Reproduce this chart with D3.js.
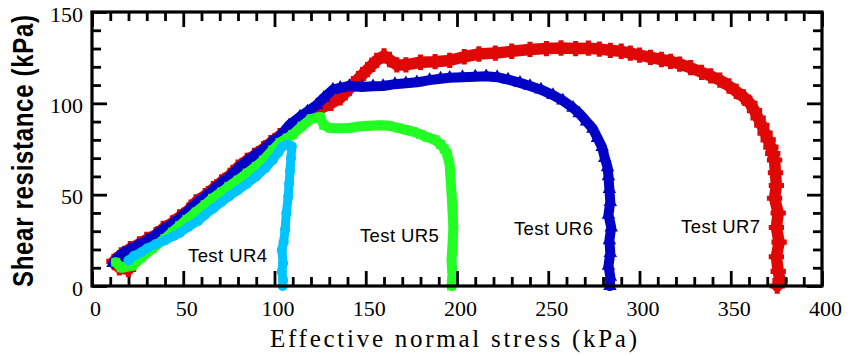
<!DOCTYPE html>
<html>
<head>
<meta charset="utf-8">
<script src="https://cdn.jsdelivr.net/npm/d3@7"></script>
<style>
  html, body { margin: 0; padding: 0; background: #fff; }
  svg { display: block; }
</style>
</head>
<body>
<svg id="chart" width="859" height="356"></svg>
<script>
// Stress paths of the undrained ring-shear tests: [effective normal stress, shear resistance] in kPa
const testUR7 = [
  [20, 9], [15, 10], [12, 13.5], [16, 17], [21, 20.5], [26, 23], [30, 25.5], [35, 28], [39, 31.5],
  [44, 34.5], [48, 37.8], [53, 41.5], [57, 46], [62, 49.5], [66.5, 53.3], [71, 57], [75.6, 60.6],
  [80, 65], [85, 68.8], [89, 71.5], [94, 75.2], [98, 78.5], [103, 82.3], [108, 85.5], [114, 91],
  [120, 94.5], [126, 97.5], [131, 100], [136, 103], [141, 108], [146, 113.5], [151, 118.5],
  [156, 123.5], [160, 126], [163, 124], [167, 121], [172, 121], [180, 122.5], [188, 122.8],
  [196, 123.5], [204, 125.5], [212, 127], [221, 127.5], [230, 128.5], [240, 129.5], [249, 130],
  [257, 130.3], [265, 130], [272, 130.2], [278, 129.7], [284, 129], [290, 128.5], [295, 127.5],
  [300, 126.4], [306, 125.2], [312, 124], [317, 123], [322, 121.5], [328, 119.5], [334, 117],
  [339, 115], [344, 112.7], [349, 109.5], [353, 106.5], [357, 103.5], [360.5, 100], [363, 96],
  [365, 92], [367, 88], [368.8, 83.7], [370.5, 80], [372, 76], [373, 72.5], [374, 69], [374.5, 62],
  [375, 55], [374, 48], [376, 40], [375, 32], [376.5, 24], [375, 16], [376, 8], [377, 3], [375.5, 0]
];
const testUR6 = [
  [11.5, 12.5], [14, 15.5], [17, 18], [20.8, 20], [25, 22.3], [30, 24.8], [35, 28], [39, 31],
  [44, 34], [48.2, 37.3], [53, 41.5], [57.4, 45.5], [62, 49], [66.5, 52.8], [71, 56.5], [75.6, 60.1],
  [80, 64.5], [84.8, 68.3], [89, 71.5], [93.9, 74.7], [98, 78.5], [103, 82], [108, 88], [114, 92.7],
  [118, 95.5], [123, 99], [127, 103], [132, 107.5], [136, 108.5], [141, 109.5], [148, 109],
  [154, 109.3], [159.5, 109.5], [166, 110.5], [172, 111], [178, 111.5], [185, 112.7], [191, 113.5],
  [196, 114], [203, 114.3], [210, 114.6], [216, 114.8], [222, 114.3], [228, 113], [234.5, 111.2],
  [240, 109.5], [246, 107.5], [252.6, 104.5], [258, 101.5], [263.6, 97.5], [267, 94.5],
  [271, 90], [274.5, 86], [277, 81], [279.5, 76], [281, 70], [282.5, 65], [283, 60], [283.5, 53],
  [284, 46], [283, 39], [284.5, 32], [283.5, 25], [284, 18], [283, 11], [284, 5], [283.8, 0]
];
const testUR5 = [
  [13, 13], [16, 10], [22, 11], [27, 15.5], [33, 20.5], [40, 26], [44, 29.5], [48, 33], [52, 36.5],
  [57, 40.5], [62, 44.5], [66, 48], [71, 51.5], [75, 54.5], [80, 58], [85, 61.8], [90, 65.5],
  [94, 69], [99, 74.5], [103, 78.5], [107, 81], [110, 83], [115, 87.5], [120, 91.5], [125, 92.5],
  [127, 88], [130.4, 86.5], [135, 86.3], [141, 86.5], [146, 87.3], [152, 87.7], [158, 88],
  [163, 87.7], [168, 86.5], [172, 85.5], [176, 84.5], [180, 83], [183.5, 81.5], [188, 80],
  [191, 77.5], [193, 75], [194.5, 72.6], [196, 66], [196.5, 58], [197, 51], [197.5, 42],
  [198, 32], [197.5, 22], [197, 14], [197.5, 6], [197, 0]
];
const testUR4 = [
  [20, 14], [23, 16.5], [27, 18.5], [30, 20.5], [35, 23], [40, 25], [45, 27.5], [48, 29],
  [53, 32.5], [58, 35.5], [62, 39], [66.5, 42.5], [71, 46], [75, 49], [80, 52.5], [85, 56],
  [90, 60], [95, 64.5], [99, 69], [102, 73], [104, 76], [107, 77.5], [109.5, 76.5], [109, 70],
  [108.5, 63], [108, 56], [107.5, 49], [106.5, 40], [105.8, 31], [105, 24], [104, 19.7],
  [104.7, 12.6], [104, 8], [104.7, 3.3], [104.5, 0]
];

const xTickValues = [0, 50, 100, 150, 200, 250, 300, 350, 400];
const yTickValues = [0, 50, 100, 150];
const xTitle = "Effective normal stress (kPa)";
const yTitle = "Shear resistance (kPa)";

const svg = d3.select("#chart");
const plotLeft = 92, plotRight = 822, plotTop = 12, plotBottom = 286;

const x = d3.scaleLinear().domain([0, 400]).range([plotLeft, plotRight]);
const y = d3.scaleLinear().domain([0, 150]).range([plotBottom, plotTop]);

const minorX = d3.range(0, 401, 10).filter(v => v % 50 !== 0);
const minorY = d3.range(0, 151, 10).filter(v => v % 50 !== 0);

// Series: path band plus dense markers
const series = [
  { data: testUR7, color: "#e00707", width: 11.5, symbol: d3.symbolCross, size: 130 },
  { data: testUR6, color: "#0202c6", width: 10, symbol: d3.symbolTriangle, size: 80 },
  { data: testUR5, color: "#22ff22", width: 10, symbol: d3.symbolSquare, size: 80 },
  { data: testUR4, color: "#00c4ff", width: 9, symbol: d3.symbolCircle, size: 80 }
];

const line = d3.line().x(d => x(d[0])).y(d => y(d[1])).curve(d3.curveLinear);
const plot = svg.append("g");

series.forEach(s => {
  const g = plot.append("g");
  g.append("path")
    .attr("d", line(s.data))
    .attr("fill", "none")
    .attr("stroke", s.color)
    .attr("stroke-width", s.width)
    .attr("stroke-linejoin", "round")
    .attr("stroke-linecap", "round");
  g.selectAll("path.m")
    .data(s.data)
    .join("path")
    .attr("class", "m")
    .attr("transform", d => `translate(${x(d[0])},${y(d[1])})`)
    .attr("d", d3.symbol().type(s.symbol).size(s.size))
    .attr("fill", s.color);
});

// Axes: major ticks (long, inward) and minor ticks (short, inward) on all four sides
function styleAxis(g) {
  g.select(".domain").remove();
  g.selectAll(".tick line").attr("stroke", "#000").attr("stroke-width", 2.8);
}

const serif = "'Liberation Serif', 'Times New Roman', serif";

const xAxis = svg.append("g").attr("transform", `translate(0,${plotBottom})`)
  .call(d3.axisBottom(x).tickValues(xTickValues).tickSizeInner(-15).tickSizeOuter(0).tickPadding(14))
  .call(styleAxis);
xAxis.selectAll("text")
  .attr("font-family", serif).attr("font-size", 22).attr("fill", "#000").attr("dx", 3);

svg.append("g").attr("transform", `translate(0,${plotBottom})`)
  .call(d3.axisBottom(x).tickValues(minorX).tickSizeInner(-9).tickSizeOuter(0).tickFormat(""))
  .call(styleAxis);

const yAxis = svg.append("g").attr("transform", `translate(${plotLeft},0)`)
  .call(d3.axisLeft(y).tickValues(yTickValues).tickSizeInner(-15).tickSizeOuter(0).tickPadding(9))
  .call(styleAxis);
yAxis.selectAll("text")
  .attr("font-family", serif).attr("font-size", 22).attr("fill", "#000").attr("dy", "0.42em");

svg.append("g").attr("transform", `translate(${plotLeft},0)`)
  .call(d3.axisLeft(y).tickValues(minorY).tickSizeInner(-9).tickSizeOuter(0).tickFormat(""))
  .call(styleAxis);

svg.append("g").attr("transform", `translate(0,${plotTop})`)
  .call(d3.axisTop(x).tickValues(xTickValues).tickSizeInner(-15).tickSizeOuter(0).tickFormat(""))
  .call(styleAxis);
svg.append("g").attr("transform", `translate(0,${plotTop})`)
  .call(d3.axisTop(x).tickValues(minorX).tickSizeInner(-9).tickSizeOuter(0).tickFormat(""))
  .call(styleAxis);

svg.append("g").attr("transform", `translate(${plotRight},0)`)
  .call(d3.axisRight(y).tickValues(yTickValues).tickSizeInner(-15).tickSizeOuter(0).tickFormat(""))
  .call(styleAxis);
svg.append("g").attr("transform", `translate(${plotRight},0)`)
  .call(d3.axisRight(y).tickValues(minorY).tickSizeInner(-9).tickSizeOuter(0).tickFormat(""))
  .call(styleAxis);

// Frame
svg.append("rect")
  .attr("x", plotLeft).attr("y", plotTop)
  .attr("width", plotRight - plotLeft).attr("height", plotBottom - plotTop)
  .attr("fill", "none").attr("stroke", "#000").attr("stroke-width", 3.2);

// Test labels
const labels = [
  { text: "Test UR4", at: [52.6, 13.1] },
  { text: "Test UR5", at: [146.8, 24.1] },
  { text: "Test UR6", at: [231.2, 27.9] },
  { text: "Test UR7", at: [322.8, 29] }
];
svg.append("g").selectAll("text")
  .data(labels)
  .join("text")
  .attr("x", d => x(d.at[0]))
  .attr("y", d => y(d.at[1]))
  .attr("font-family", "'Liberation Sans', Arial, sans-serif")
  .attr("font-size", 18.5)
  .attr("textLength", 79)
  .attr("lengthAdjust", "spacing")
  .attr("fill", "#000")
  .text(d => d.text);

// Axis titles
svg.append("text")
  .attr("x", 270).attr("y", 347)
  .attr("font-family", serif)
  .attr("font-size", 25)
  .attr("textLength", 367)
  .attr("lengthAdjust", "spacing")
  .attr("fill", "#000")
  .text(xTitle);

svg.append("text")
  .attr("transform", "translate(33,151) rotate(-90) scale(1,1.2)")
  .attr("text-anchor", "middle")
  .attr("font-family", "'Liberation Sans', Arial, sans-serif")
  .attr("font-weight", "bold")
  .attr("font-size", 24)
  .attr("textLength", 272)
  .attr("lengthAdjust", "spacing")
  .attr("fill", "#000")
  .text(yTitle);
</script>
</body>
</html>
